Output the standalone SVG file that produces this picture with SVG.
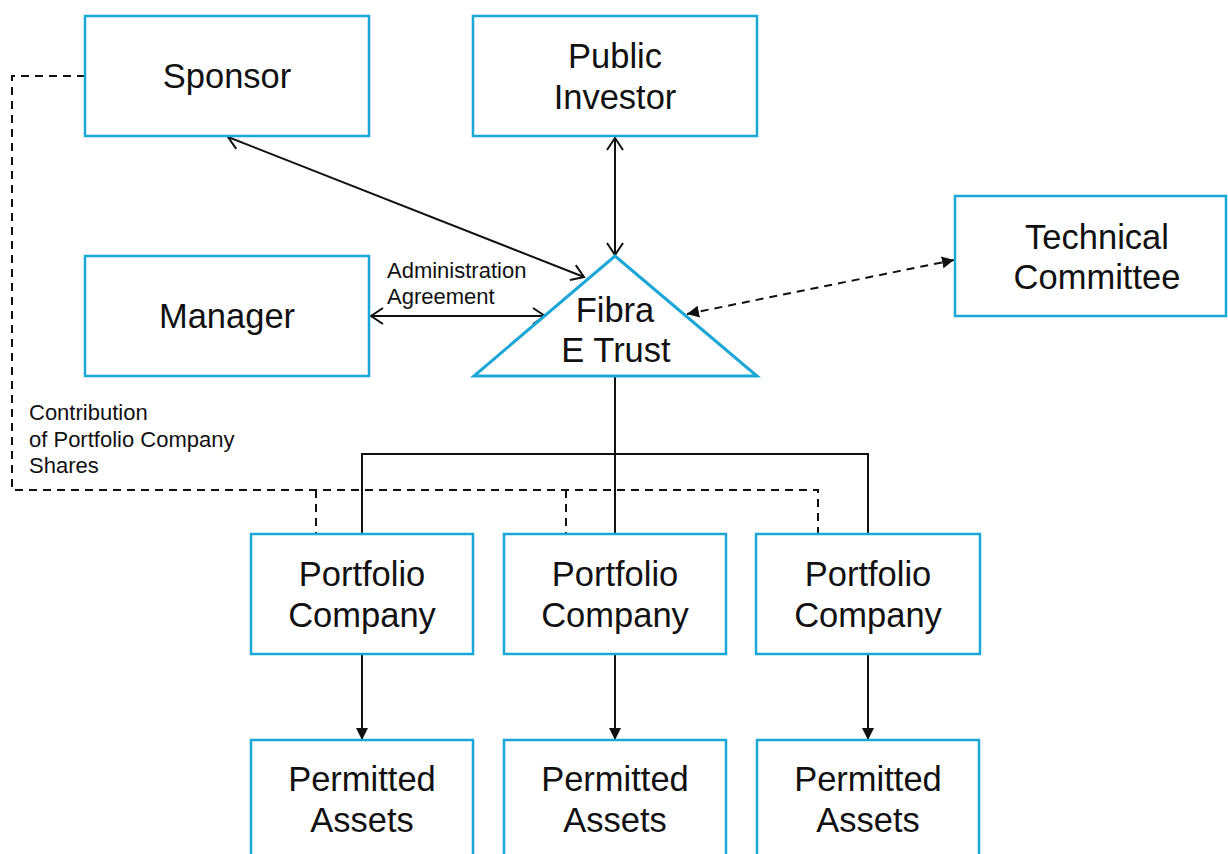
<svg xmlns="http://www.w3.org/2000/svg" width="1228" height="854" viewBox="0 0 1228 854">
  <style>
    .box { fill: #fff; stroke: #1ba6d8; stroke-width: 2.5; }
    .tri { fill: #fff; stroke: #1ba6d8; stroke-width: 3; stroke-linejoin: miter; }
    .label { font-family: "Liberation Sans", Arial, sans-serif; font-size: 34.5px; fill: #111; text-anchor: middle; }
    .small { font-family: "Liberation Sans", Arial, sans-serif; font-size: 22px; fill: #111; }
    .link { fill: none; stroke: #111; stroke-width: 2; }
    .dash { fill: none; stroke: #111; stroke-width: 2; stroke-dasharray: 8 6; }
  </style>
  <defs>
    <marker id="open" viewBox="0 0 13 16" refX="12" refY="8" markerWidth="13" markerHeight="16" markerUnits="userSpaceOnUse" orient="auto-start-reverse" style="overflow:visible">
      <path d="M0,0 L12,8 L0,16" fill="none" stroke="#111" stroke-width="2"/>
    </marker>
    <marker id="solid" viewBox="0 0 12 12" refX="12" refY="6" markerWidth="12" markerHeight="12" markerUnits="userSpaceOnUse" orient="auto-start-reverse">
      <path d="M0,0 L12,6 L0,12 z" fill="#111"/>
    </marker>
  </defs>

  <rect width="1228" height="854" fill="#fff"/>

  <!-- connectors -->
  <g id="connectors">
    <!-- sponsor contribution of shares (dashed) -->
    <path class="dash" d="M85,76 H12 V490 H818 V534"/>
    <path class="dash" d="M316,490 V534"/>
    <path class="dash" d="M566,490 V534"/>
    <!-- ownership tree -->
    <path class="link" d="M615,376 V534"/>
    <path class="link" d="M362,534 V454 H868 V534"/>
    <!-- two-way relations with the trust -->
    <line class="link" x1="228" y1="137" x2="584" y2="277" marker-start="url(#open)" marker-end="url(#open)"/>
    <line class="link" x1="615" y1="138" x2="615" y2="255" marker-start="url(#open)" marker-end="url(#open)"/>
    <line class="link" x1="371" y1="316" x2="545" y2="316" marker-start="url(#open)" marker-end="url(#open)"/>
    <line class="dash" x1="687" y1="314" x2="954" y2="260" marker-start="url(#solid)" marker-end="url(#solid)"/>
    <!-- companies to assets -->
    <line class="link" x1="362" y1="655" x2="362" y2="740" marker-end="url(#solid)"/>
    <line class="link" x1="615" y1="655" x2="615" y2="740" marker-end="url(#solid)"/>
    <line class="link" x1="868" y1="655" x2="868" y2="740" marker-end="url(#solid)"/>
    <!-- relation labels -->
    <text class="small" x="387" y="278">Administration</text>
    <text class="small" x="387" y="304">Agreement</text>
    <text class="small" x="29" y="420">Contribution</text>
    <text class="small" x="29" y="447">of Portfolio Company</text>
    <text class="small" x="29" y="473">Shares</text>
  </g>

  <g id="sponsor">
    <rect class="box" x="85" y="16" width="284" height="120"/>
    <text class="label" x="227" y="88">Sponsor</text>
  </g>

  <g id="public-investor">
    <rect class="box" x="473" y="16" width="284" height="120"/>
    <text class="label" x="615" y="68">Public</text>
    <text class="label" x="615" y="109">Investor</text>
  </g>

  <g id="manager">
    <rect class="box" x="85" y="256" width="284" height="120"/>
    <text class="label" x="227" y="328">Manager</text>
  </g>

  <g id="technical-committee">
    <rect class="box" x="955" y="196" width="271" height="120"/>
    <text class="label" x="1097" y="249">Technical</text>
    <text class="label" x="1097" y="289">Committee</text>
  </g>

  <g id="fibra-e-trust">
    <polygon class="tri" points="615,256 757,376 474,376"/>
    <text class="label" x="615" y="322">Fibra</text>
    <text class="label" x="616" y="362">E Trust</text>
  </g>

  <g id="portfolio-company-1">
    <rect class="box" x="251" y="534" width="222" height="120"/>
    <text class="label" x="362" y="586">Portfolio</text>
    <text class="label" x="362" y="627">Company</text>
  </g>
  <g id="portfolio-company-2">
    <rect class="box" x="504" y="534" width="222" height="120"/>
    <text class="label" x="615" y="586">Portfolio</text>
    <text class="label" x="615" y="627">Company</text>
  </g>
  <g id="portfolio-company-3">
    <rect class="box" x="756" y="534" width="224" height="120"/>
    <text class="label" x="868" y="586">Portfolio</text>
    <text class="label" x="868" y="627">Company</text>
  </g>

  <g id="permitted-assets-1">
    <rect class="box" x="251" y="740" width="222" height="130"/>
    <text class="label" x="362" y="791">Permitted</text>
    <text class="label" x="362" y="832">Assets</text>
  </g>
  <g id="permitted-assets-2">
    <rect class="box" x="504" y="740" width="222" height="130"/>
    <text class="label" x="615" y="791">Permitted</text>
    <text class="label" x="615" y="832">Assets</text>
  </g>
  <g id="permitted-assets-3">
    <rect class="box" x="757" y="740" width="222" height="130"/>
    <text class="label" x="868" y="791">Permitted</text>
    <text class="label" x="868" y="832">Assets</text>
  </g>
</svg>
